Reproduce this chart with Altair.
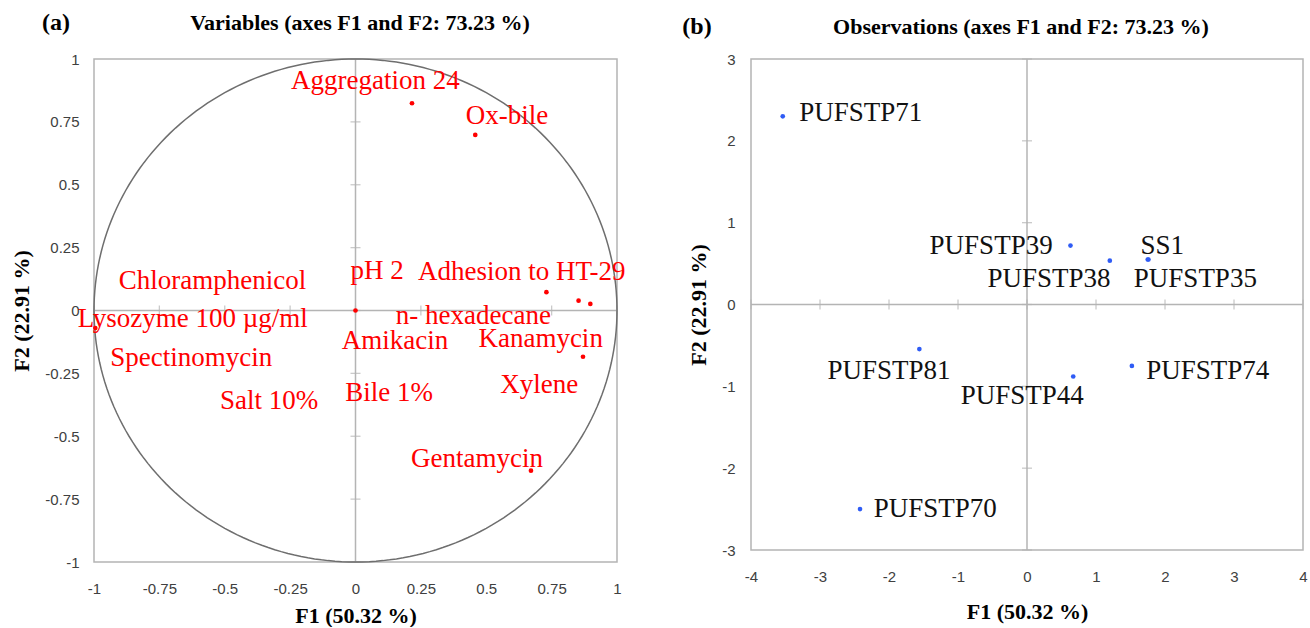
import altair as alt
import pandas as pd
import numpy as np

# ---------------- Panel (a): variables ----------------
var_dot_x = [0.216, 0.458, 0.730, 0.853, 0.898, 0.870, 0.671, 0.0, -0.995]
var_dot_y = [0.824, 0.698, 0.073, 0.039, 0.026, -0.184, -0.637, 0.0, -0.07]

var_labels = ["Aggregation 24", "Ox-bile", "Chloramphenicol", "pH 2", "Adhesion to HT-29",
              "Lysozyme 100 µg/ml", "n- hexadecane", "Amikacin", "Kanamycin", "Spectinomycin",
              "Xylene", "Salt 10%", "Bile 1%", "Gentamycin"]
var_label_x = [0.076, 0.579, -0.547, 0.083, 0.636, -0.622, 0.451, 0.151, 0.708, -0.628,
               0.703, -0.330, 0.129, 0.465]
var_label_y = [0.911, 0.775, 0.119, 0.159, 0.152, -0.034, -0.021, -0.120, -0.114, -0.187,
               -0.296, -0.360, -0.329, -0.589]

ticks_a = [-1, -0.75, -0.5, -0.25, 0, 0.25, 0.5, 0.75, 1]

# ---------------- Panel (b): observations ----------------
obs_names = ["PUFSTP71", "PUFSTP39", "PUFSTP38", "SS1", "PUFSTP35",
             "PUFSTP81", "PUFSTP44", "PUFSTP74", "PUFSTP70"]
obs_x = [-3.54, 0.63, 1.20, 1.75, 1.76, -1.56, 0.67, 1.52, -2.42]
obs_y = [2.30, 0.72, 0.535, 0.55, 0.55, -0.545, -0.88, -0.75, -2.50]
obs_label_x = [-2.41, -0.52, 0.32, 1.96, 2.44, -2.0, -0.07, 2.62, -1.33]
obs_label_y = [2.34, 0.72, 0.31, 0.72, 0.31, -0.81, -1.12, -0.81, -2.50]

ticks_bx = [-4, -3, -2, -1, 0, 1, 2, 3, 4]
ticks_by = [-3, -2, -1, 0, 1, 2, 3]

SERIF = "Liberation Serif"
SANS = "Liberation Sans"
GRID = "#b4b4b4"


def make_axis(values, title, lp, ext, tp):
    return alt.Axis(values=values, labelExpr="datum.value + ''", domain=False, ticks=False,
                    grid=False, labelFont=SANS, labelFontSize=15, labelColor="#404040",
                    labelPadding=lp, labelFlush=False, labelOverlap=False, title=title,
                    titleFont=SERIF, titleFontSize=22, titleFontWeight="bold",
                    titleColor="black", titlePadding=tp, minExtent=ext, maxExtent=ext)


def panel(dom_x, dom_y, tx, ty, ax_x, ax_y, dots, labels, dot_color, text_color,
          extra_layers, tag, tag_x, tag_y, title, title_x, title_y, w, h):
    sx = alt.Scale(domain=dom_x, nice=False, zero=False)
    sy = alt.Scale(domain=dom_y, nice=False, zero=False)

    def X(f):
        return alt.X(f, type="quantitative", scale=sx, axis=ax_x)

    def Y(f):
        return alt.Y(f, type="quantitative", scale=sy, axis=ax_y)

    zero = pd.DataFrame({"v": [0]})
    vrule = alt.Chart(zero).mark_rule(color=GRID, strokeWidth=1.5).encode(x=X("v"))
    hrule = alt.Chart(zero).mark_rule(color=GRID, strokeWidth=1.5).encode(y=Y("v"))

    xt = pd.DataFrame({"x": tx, "y": [0] * len(tx)})
    yt = pd.DataFrame({"x": [0] * len(ty), "y": ty})
    xticks = alt.Chart(xt).mark_tick(orient="vertical", size=10, thickness=1.3,
                                     color=GRID).encode(x=X("x"), y=Y("y"))
    yticks = alt.Chart(yt).mark_tick(orient="horizontal", size=10, thickness=1.3,
                                     color=GRID).encode(x=X("x"), y=Y("y"))

    layers = [vrule, hrule, xticks, yticks]
    for df, mk in extra_layers:
        layers.append(mk(alt.Chart(df)).encode(x=X("x"), y=Y("y"), order="i:Q"))

    pts = alt.Chart(dots).mark_circle(color=dot_color, size=22, opacity=1).encode(
        x=X("x"), y=Y("y"))
    txt = alt.Chart(labels).mark_text(font=SERIF, fontSize=27, color=text_color,
                                      align="center", baseline="middle").encode(
        x=X("x"), y=Y("y"), text="t:N")
    tagc = alt.Chart(pd.DataFrame({"t": [tag]})).mark_text(
        font=SERIF, fontSize=24, fontWeight="bold", color="black",
        align="center", baseline="middle").encode(
        x=alt.value(tag_x), y=alt.value(tag_y), text="t:N")
    titlec = alt.Chart(pd.DataFrame({"t": [title]})).mark_text(
        font=SERIF, fontSize=22, fontWeight="bold", color="black",
        align="center", baseline="middle").encode(
        x=alt.value(title_x), y=alt.value(title_y), text="t:N")
    layers += [pts, txt, tagc, titlec]

    return alt.layer(*layers).properties(width=w, height=h)


# unit correlation circle (geometric reference, not data)
theta = np.linspace(0, 2 * np.pi, 241)
circle = pd.DataFrame({"x": np.cos(theta), "y": np.sin(theta), "i": np.arange(len(theta))})

left = panel(
    [-1, 1], [-1, 1], ticks_a, ticks_a,
    make_axis(ticks_a, "F1 (50.32 %)", 19, 35, 8),
    make_axis(ticks_a, "F2 (22.91 %)", 15, 50, 11),
    pd.DataFrame({"x": var_dot_x, "y": var_dot_y}),
    pd.DataFrame({"x": var_label_x, "y": var_label_y, "t": var_labels}),
    "#ff0000", "#ff0000",
    [(circle, lambda c: c.mark_line(color="#6e6e6e", strokeWidth=1.5))],
    "(a)", -38, -36, "Variables (axes F1 and F2: 73.23 %)", 266, -36, 523, 503)

right = panel(
    [-4, 4], [-3, 3], ticks_bx, ticks_by,
    make_axis(ticks_bx, "F1 (50.32 %)", 19, 35, 16),
    make_axis(ticks_by, "F2 (22.91 %)", 16, 35, 6),
    pd.DataFrame({"x": obs_x, "y": obs_y}),
    pd.DataFrame({"x": obs_label_x, "y": obs_label_y, "t": obs_names}),
    "#2f5cf5", "#111111",
    [],
    "(b)", -54, -32, "Observations (axes F1 and F2: 73.23 %)", 270, -32, 552, 491)

chart = alt.hconcat(left, right, spacing=54).properties(
    padding={"left": 9, "top": 10, "right": 0, "bottom": 0}
).configure_view(stroke=GRID, strokeWidth=1.5)

chart.save("out.html", embed_options={"renderer": "svg", "actions": False})
